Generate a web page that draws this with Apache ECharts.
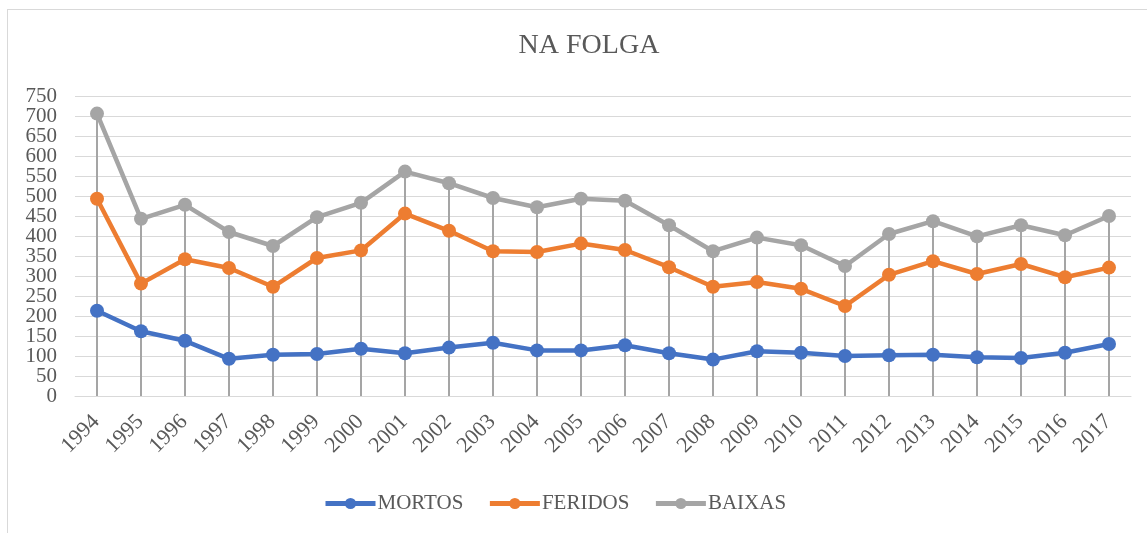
<!DOCTYPE html>
<html>
<head>
<meta charset="utf-8">
<script src="https://cdn.jsdelivr.net/npm/echarts@6/dist/echarts.min.js"></script>
<style>
  html, body { margin: 0; padding: 0; background: #fff; overflow: hidden; }
  #frame { position: absolute; left: 7px; top: 9px; width: 1300px; height: 700px; border: 1px solid #d9d9d9; }
  #chart { position: absolute; left: 0; top: 0; width: 1147px; height: 533px; }
</style>
</head>
<body>
<div id="frame"></div>
<div id="chart"></div>
<script>
  const years = ['1994', '1995', '1996', '1997', '1998', '1999', '2000', '2001', '2002', '2003', '2004', '2005',
    '2006', '2007', '2008', '2009', '2010', '2011', '2012', '2013', '2014', '2015', '2016', '2017'];
  const mortos = [213, 162, 138, 93, 103, 105, 118, 107, 121, 133, 114, 114,
    127, 107, 91, 112, 108, 100, 102, 103, 97, 95, 108, 130];
  const feridos = [493, 281, 342, 320, 273, 345, 364, 456, 413, 362, 360, 381,
    365, 322, 273, 285, 268, 225, 303, 337, 305, 330, 297, 321];
  const baixas = [706, 443, 478, 410, 375, 447, 483, 561, 532, 495, 472, 493,
    488, 427, 362, 396, 377, 325, 405, 437, 399, 427, 402, 450];

  const serif = '"Liberation Serif", "Times New Roman", serif';
  const textGray = '#595959';

  function lineSeries(name, data, color) {
    return {
      name: name,
      type: 'line',
      data: data,
      z: 3,
      symbol: 'circle',
      symbolSize: 14,
      lineStyle: { width: 4.5, color: color },
      itemStyle: { color: color }
    };
  }

  // the labels sit 20px apart, so they are split over two stacked axes
  // (hundreds on one, fifties on the other) to keep all of them visible
  function valueAxis(showHundreds) {
    return {
      type: 'value',
      position: 'left',
      min: 0,
      max: 750,
      interval: 50,
      axisLine: { show: false },
      axisTick: { show: false },
      splitLine: { show: showHundreds, lineStyle: { color: '#d9d9d9', width: 1 } },
      axisLabel: {
        margin: 18,
        showMinLabel: true,
        showMaxLabel: true,
        fontFamily: serif,
        fontSize: 21,
        color: textGray,
        formatter: function (v) {
          return ((v % 100 === 0) === showHundreds) ? String(v) : '';
        }
      }
    };
  }

  const chart = echarts.init(document.getElementById('chart'));
  chart.setOption({
    animation: false,
    title: {
      text: 'NA FOLGA',
      left: 584,
      textAlign: 'center',
      top: 27,
      textStyle: { fontFamily: serif, fontSize: 28, fontWeight: 'normal', color: textGray }
    },
    legend: {
      data: ['MORTOS', 'FERIDOS', 'BAIXAS'],
      left: 318,
      top: 488,
      itemWidth: 50,
      itemHeight: 14,
      itemGap: 24,
      lineStyle: { width: 5 },
      textStyle: { fontFamily: serif, fontSize: 21, color: textGray, padding: [0, 0, 0, -3] }
    },
    grid: { left: 75, right: 16, top: 96, bottom: 137, containLabel: false },
    xAxis: {
      type: 'category',
      data: years,
      axisLine: { lineStyle: { color: '#d9d9d9', width: 1 } },
      axisTick: { show: false },
      axisLabel: {
        rotate: 45, margin: 6, verticalAlign: 'top', interval: 0, padding: [0, 12, 0, 0],
        fontFamily: serif, fontSize: 22, color: textGray
      }
    },
    yAxis: [valueAxis(true), valueAxis(false)],
    series: [
      {
        name: 'drop',
        type: 'bar',
        data: baixas,
        barWidth: 2,
        z: 1,
        silent: true,
        itemStyle: { color: '#a5a5a5' }
      },
      lineSeries('MORTOS', mortos, '#4472c4'),
      lineSeries('FERIDOS', feridos, '#ed7d31'),
      lineSeries('BAIXAS', baixas, '#a5a5a5')
    ]
  });
</script>
</body>
</html>
